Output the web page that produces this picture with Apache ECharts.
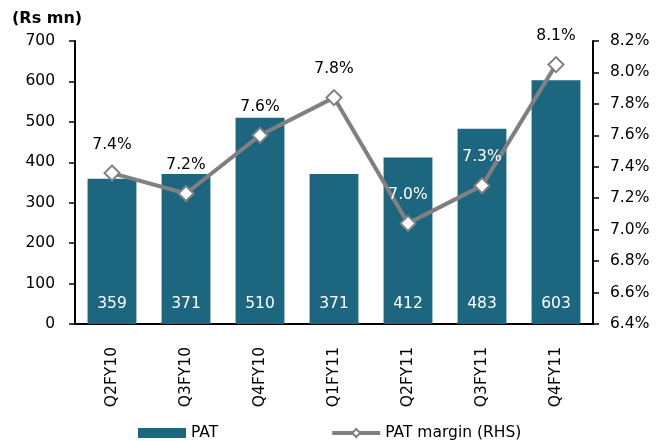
<!DOCTYPE html>
<html>
<head>
<meta charset="utf-8">
<script src="https://cdn.jsdelivr.net/npm/echarts@6/dist/echarts.min.js"></script>
<style>
  html, body { margin: 0; padding: 0; background: #fff; }
  #chart { width: 672px; height: 441px; }
</style>
</head>
<body>
<div id="chart"></div>
<script>
const quarters = ['Q2FY10', 'Q3FY10', 'Q4FY10', 'Q1FY11', 'Q2FY11', 'Q3FY11', 'Q4FY11']
const pat = [359, 371, 510, 371, 412, 483, 603]
const patMargin = [7.36, 7.23, 7.60, 7.84, 7.04, 7.28, 8.05]
// labels sitting over a bar are drawn in white
const marginLabelColors = ['#000', '#000', '#000', '#000', '#fff', '#fff', '#000']

const font = 'Verdana, "DejaVu Sans", sans-serif'
const fs = 15.5
const chart = echarts.init(document.getElementById('chart'))

chart.setOption({
  animation: false,
  textStyle: { fontFamily: font },
  title: {
    text: '(Rs mn)',
    left: 7,
    top: 6,
    textStyle: { fontFamily: font, fontSize: 16, fontWeight: 'bold', color: '#000' },
  },
  legend: {
    bottom: -5,
    left: 133,
    itemGap: 112,
    itemWidth: 48,
    itemHeight: 10,
    textStyle: { fontFamily: font, fontSize: fs, color: '#000' },
    data: [
      { name: 'PAT', icon: 'rect' },
      { name: 'PAT margin (RHS)', lineStyle: { width: 4 } },
    ],
  },
  grid: { left: 75, right: 79, top: 41, bottom: 117 },
  xAxis: {
    type: 'category',
    data: quarters,
    axisLine: { lineStyle: { color: '#000', width: 2 } },
    axisTick: { lineStyle: { color: '#000', width: 1.5 }, length: 6 },
    axisLabel: { rotate: 90, color: '#000', fontSize: fs, fontFamily: font, margin: 23 },
  },
  yAxis: [
    {
      type: 'value',
      min: 0,
      max: 700,
      interval: 100,
      splitLine: { show: false },
      axisLine: { show: true, lineStyle: { color: '#000', width: 2 } },
      axisTick: { show: true, lineStyle: { color: '#000', width: 1.5 }, length: 6 },
      axisLabel: { color: '#000', fontSize: fs, fontFamily: font, margin: 20 },
    },
    {
      type: 'value',
      min: 6.4,
      max: 8.2,
      interval: 0.2,
      splitLine: { show: false },
      axisLine: { show: true, lineStyle: { color: '#000', width: 2 } },
      axisTick: { show: true, lineStyle: { color: '#000', width: 1.5 }, length: 6 },
      axisLabel: {
        color: '#000', fontSize: fs, fontFamily: font, margin: 17,
        formatter: v => v.toFixed(1) + '%',
      },
    },
  ],
  series: [
    {
      name: 'PAT',
      type: 'bar',
      data: pat,
      barWidth: '66%',
      itemStyle: { color: '#1c6680' },
      label: {
        show: true,
        position: 'insideBottom',
        distance: 12,
        color: '#fff',
        fontSize: fs,
        fontFamily: font,
      },
    },
    {
      name: 'PAT margin (RHS)',
      type: 'line',
      yAxisIndex: 1,
      data: patMargin.map((v, i) => ({
        value: v,
        label: { color: marginLabelColors[i] },
      })),
      symbol: 'diamond',
      symbolSize: 15,
      lineStyle: { color: '#808080', width: 4 },
      itemStyle: { color: '#fff', borderColor: '#808080', borderWidth: 2 },
      label: {
        show: true,
        position: 'top',
        distance: 12,
        fontSize: fs,
        fontFamily: font,
        formatter: p => p.value.toFixed(1) + '%',
      },
      z: 3,
    },
  ],
})
</script>
</body>
</html>
